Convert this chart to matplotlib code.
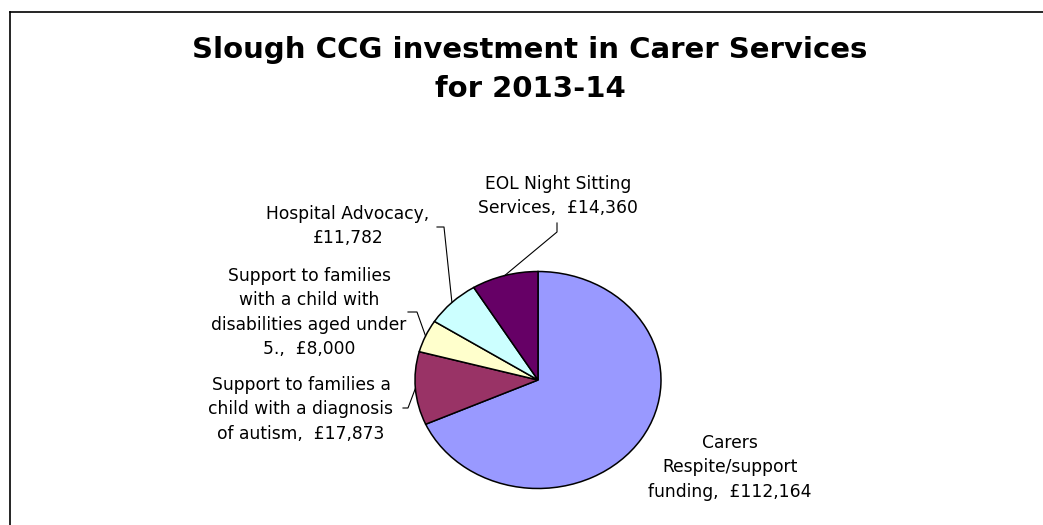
import numpy as np
import matplotlib
matplotlib.use('Agg')
import matplotlib.pyplot as plt
from matplotlib.lines import Line2D

#================================================================================
#   DATA
#================================================================================
categories = ['Carers\nRespite/support\nfunding',
              'Support to families a\nchild with a diagnosis\nof autism',
              'Support to families\nwith a child with\ndisabilities aged under\n5.',
              'Hospital Advocacy',
              'EOL Night Sitting\nServices']
values = [112164, 17873, 8000, 11782, 14360]
colors = ['#9999FF', '#993366', '#FFFFCC', '#CCFFFF', '#660066']
title = 'Slough CCG investment in Carer Services\nfor 2013-14'

#================================================================================
#   LAYOUT (pixels, measured from top-left of the 1043x525 image)
#================================================================================
W, H = 1043, 525
CX, CY = 538, 380          # pie centre
RX, RY = 123, 108.5        # pie radii (the picture is stretched sideways)

# label text: centre x, top y ; separator between name and value
label_pos = [(730, 434), (301, 376), (309, 267), (348, 205), (558, 175)]
label_sep = [',  ', ',  ', ',  ', ',\n', ',  ']
# leader: start point, elbow point (None = no line)
leader_pts = [None,
              ((403, 408), (408, 408)),
              ((408, 312), (417, 312)),
              ((437, 227), (444, 227)),
              ((557, 223), (557, 232))]


def px(x, y):
    # pixel position -> data coords of the full-figure axes
    return (x - CX) / RX, (CY - y) / RY


def main():
    plt.rcParams['font.family'] = ['DejaVu Sans']

    fig = plt.figure(figsize=(W / 100, H / 100), dpi=100)
    ax = fig.add_axes([0, 0, 1, 1])

    wedges, _ = ax.pie(values, colors=colors, startangle=90, counterclock=False,
                       wedgeprops=dict(edgecolor='black', linewidth=1.1))
    ax.set_aspect('auto')
    x0, y0 = px(0, H)
    x1, y1 = px(W, 0)
    ax.set_xlim(x0, x1)
    ax.set_ylim(y0, y1)
    ax.axis('off')

    # ===================== labels + leader lines =====================#
    for wedge, cat, val, sep, (lx, ly), lead in zip(wedges, categories, values, label_sep,
                                                   label_pos, leader_pts):
        text = '%s%s£%s' % (cat, sep, format(val, ','))
        tx, ty = px(lx, ly)
        ax.text(tx, ty, text, ha='center', va='top', multialignment='center',
                fontsize=12.3, linespacing=1.46, color='black')
        if lead is None:
            continue
        mid = np.deg2rad((wedge.theta1 + wedge.theta2) / 2)
        ex, ey = np.cos(mid), np.sin(mid)
        (sx, sy), (bx, by) = px(*lead[0]), px(*lead[1])
        ax.plot([sx, bx, ex], [sy, by, ey], color='black', linewidth=0.8)

    # ===================== title =====================#
    tx, ty = px(530, 36)
    ax.text(tx, ty, title, ha='center', va='top', multialignment='center',
            fontsize=21, fontweight='bold', linespacing=1.5)

    # ===================== chart border (cropped on right/bottom) =====================#
    fig.add_artist(Line2D([9.5 / W, 1.0], [1 - 11.5 / H, 1 - 11.5 / H],
                          transform=fig.transFigure, color='black', linewidth=1.2))
    fig.add_artist(Line2D([9.5 / W, 9.5 / W], [1 - 11.5 / H, 0.0],
                          transform=fig.transFigure, color='black', linewidth=1.2))

    fig.savefig('out.png', dpi=100)


if __name__ == '__main__':
    main()
